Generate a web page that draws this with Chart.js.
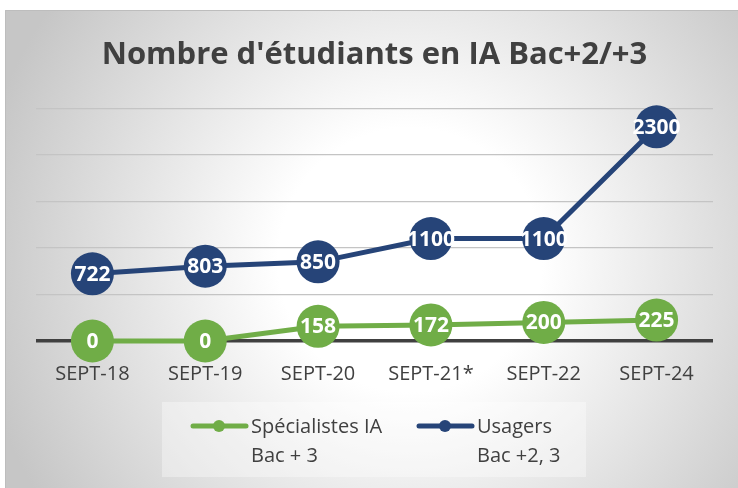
<!DOCTYPE html>
<html>
<head>
<meta charset="utf-8">
<script src="https://cdn.jsdelivr.net/npm/chart.js@4/dist/chart.umd.min.js"></script>
<style>
  html, body { margin: 0; padding: 0; background: #fff; }
  #wrap { width: 738px; height: 488px; position: relative; }
</style>
</head>
<body>
<div id="wrap"><canvas id="chart" width="738" height="488"></canvas></div>
<script>
// data
const categories = ["SEPT-18", "SEPT-19", "SEPT-20", "SEPT-21*", "SEPT-22", "SEPT-24"];
const specialistes = [0, 0, 158, 172, 200, 225];
const usagers = [722, 803, 850, 1100, 1100, 2300];
const specialistesLabel = ["Spécialistes IA", "Bac + 3"];
const usagersLabel = ["Usagers", "Bac +2, 3"];
const titleText = "Nombre d'étudiants en IA Bac+2/+3";

const green = "#70ad47";
const blue = "#264478";
const textGrey = "#404040";
const fontName = "'Open Sans'";

// frame with the soft radial gradient
let backgroundPlugin = {
    id: "bg",
    beforeDraw(chart) {
        let ctx = chart.ctx;
        ctx.save();
        ctx.fillStyle = "#ffffff";
        ctx.fillRect(0, 0, chart.width, chart.height);
        let g = ctx.createRadialGradient(410, 260, 0, 410, 260, 440);
        g.addColorStop(0, "#ffffff");
        g.addColorStop(0.3, "#ffffff");
        g.addColorStop(1, "#c6c6c6");
        ctx.fillStyle = g;
        ctx.fillRect(5, 10, chart.width - 5, chart.height - 10);
        ctx.strokeStyle = "#bdbdbd";
        ctx.lineWidth = 1;
        ctx.beginPath();
        ctx.moveTo(5.5, chart.height);
        ctx.lineTo(5.5, 10.5);
        ctx.lineTo(chart.width, 10.5);
        ctx.stroke();
        ctx.restore();
    }
};

// white value labels inside the markers
let valueLabels = {
    id: "valueLabels",
    afterDatasetsDraw(chart) {
        let ctx = chart.ctx;
        ctx.save();
        ctx.font = "bold 21px " + fontName;
        ctx.fillStyle = "#ffffff";
        ctx.textAlign = "center";
        ctx.textBaseline = "middle";
        chart.data.datasets.forEach((ds, i) => {
            let meta = chart.getDatasetMeta(i);
            meta.data.forEach((pt, j) => {
                ctx.fillText(String(ds.data[j]), pt.x, pt.y + 1);
            });
        });
        ctx.restore();
    }
};

// two-line legend under the axis
let legendPlugin = {
    id: "twoLineLegend",
    afterDraw(chart) {
        let ctx = chart.ctx;
        ctx.save();
        ctx.fillStyle = "rgba(255,255,255,0.35)";
        ctx.fillRect(162, 402, 424, 75);
        let starts = [191, 417];
        chart.data.datasets.forEach((ds, i) => {
            let x = starts[i];
            let y = 426;
            ctx.strokeStyle = ds.borderColor;
            ctx.lineWidth = 5;
            ctx.lineCap = "round";
            ctx.beginPath();
            ctx.moveTo(x + 2, y);
            ctx.lineTo(x + 55, y);
            ctx.stroke();
            ctx.fillStyle = ds.borderColor;
            ctx.beginPath();
            ctx.arc(x + 28, y, 6, 0, Math.PI * 2);
            ctx.fill();
            ctx.fillStyle = textGrey;
            ctx.font = "20px " + fontName;
            ctx.textAlign = "left";
            ctx.textBaseline = "alphabetic";
            ds.label.forEach((line, k) => {
                ctx.fillText(line, x + 60, 433 + k * 29);
            });
        });
        ctx.restore();
    }
};

let ctx = document.getElementById("chart").getContext("2d");

new Chart(ctx, {
    type: "line",
    data: {
        labels: categories,
        datasets: [
            {
                label: specialistesLabel,
                data: specialistes,
                borderColor: green,
                backgroundColor: green,
                borderWidth: 5,
                pointRadius: 21.5,
                pointHoverRadius: 21.5,
                pointBorderWidth: 0,
                pointBackgroundColor: green,
                clip: false
            },
            {
                label: usagersLabel,
                data: usagers,
                borderColor: blue,
                backgroundColor: blue,
                borderWidth: 5,
                pointRadius: 21.5,
                pointHoverRadius: 21.5,
                pointBorderWidth: 0,
                pointBackgroundColor: blue,
                clip: false
            }
        ]
    },
    options: {
        responsive: false,
        animation: false,
        layout: {
            padding: { left: 36, right: 25, top: 0, bottom: 81 }
        },
        plugins: {
            legend: { display: false },
            tooltip: { enabled: false },
            title: {
                display: true,
                text: titleText,
                color: textGrey,
                font: { family: "Open Sans", size: 31, weight: "bold", lineHeight: 1.2 },
                padding: { top: 37, bottom: 34 }
            }
        },
        scales: {
            x: {
                offset: true,
                grid: { display: false, drawTicks: false },
                border: { display: false },
                ticks: {
                    color: textGrey,
                    font: { family: "Open Sans", size: 20 },
                    padding: 21
                }
            },
            y: {
                min: 0,
                max: 2500,
                ticks: { display: false, stepSize: 500 },
                border: { display: false },
                grid: {
                    drawTicks: false,
                    color: c => c.tick && c.tick.value === 0 ? "#404040" : "#c4c4c4",
                    lineWidth: c => c.tick && c.tick.value === 0 ? 3.5 : 1.3
                }
            }
        }
    },
    plugins: [backgroundPlugin, valueLabels, legendPlugin]
});
</script>
</body>
</html>
